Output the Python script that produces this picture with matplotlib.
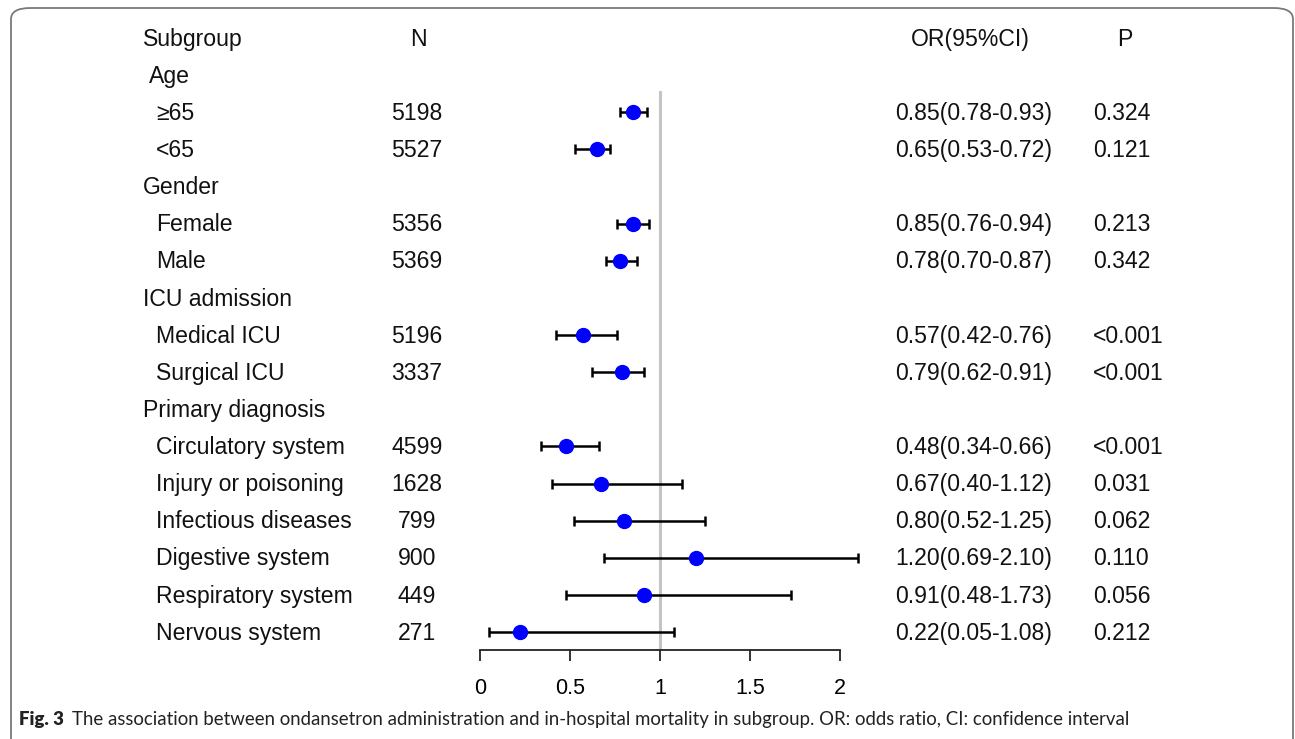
import matplotlib.pyplot as plt
from matplotlib import transforms
from matplotlib.patches import FancyBboxPatch

# data
groups = ['Age', 'Gender', 'ICU admission', 'Primary diagnosis']
labels = ['≥65', '<65', 'Female', 'Male', 'Medical ICU', 'Surgical ICU',
          'Circulatory system', 'Injury or poisoning', 'Infectious diseases',
          'Digestive system', 'Respiratory system', 'Nervous system']
group_idx = [0, 0, 1, 1, 2, 2, 3, 3, 3, 3, 3, 3]
n_vals = [5198, 5527, 5356, 5369, 5196, 3337, 4599, 1628, 799, 900, 449, 271]
or_vals = [0.85, 0.65, 0.85, 0.78, 0.57, 0.79, 0.48, 0.67, 0.80, 1.20, 0.91, 0.22]
ci_low = [0.78, 0.53, 0.76, 0.70, 0.42, 0.62, 0.34, 0.40, 0.52, 0.69, 0.48, 0.05]
ci_high = [0.93, 0.72, 0.94, 0.87, 0.76, 0.91, 0.66, 1.12, 1.25, 2.10, 1.73, 1.08]
p_vals = ['0.324', '0.121', '0.213', '0.342', '<0.001', '<0.001',
          '<0.001', '0.031', '0.062', '0.110', '0.056', '0.212']
xticks = [0, 0.5, 1, 1.5, 2]

W, H = 1295, 739
plt.rcParams['font.family'] = ['Liberation Sans', 'DejaVu Sans']
fig = plt.figure(figsize=(W / 100, H / 100), dpi=100)

# axes: x 0..2 -> px 480..840, bottom spine at px 650
ax = fig.add_axes([480 / W, 1 - 650 / H, 360 / W, 630 / H])
step = 37.125
ax.set_xlim(0, 2)
ax.set_ylim(16 + (650 - 632) / step, -(38 - 20) / step)

# row layout
rows = []
head_rows = []
r = 1
last = -1
for i, g in enumerate(group_idx):
    if g != last:
        head_rows.append(r)
        r += 1
        last = g
    rows.append(r)
    r += 1

ax.plot([1, 1], [(92 - 38) / step, ax.get_ylim()[0]], color='#c4c4c4', lw=2.2, zorder=1)
xerr = [[o - l for o, l in zip(or_vals, ci_low)], [h - o for o, h in zip(or_vals, ci_high)]]
ax.errorbar(or_vals, rows, xerr=xerr, fmt='o', color='blue', ms=10,
            ecolor='black', elinewidth=1.8, capsize=3.8, capthick=1.8,
            clip_on=False, zorder=3)

for s in ['top', 'left', 'right']:
    ax.spines[s].set_visible(False)
ax.spines['bottom'].set_linewidth(1.3)
ax.spines['bottom'].set_color('#222222')
ax.set_yticks([])
ax.set_xticks(xticks)
ax.set_xticklabels(['0', '0.5', '1', '1.5', '2'])
ax.tick_params(axis='x', length=8, width=1.3, color='#222222', pad=12, labelsize=15.5)
ax.patch.set_alpha(0)

tr = transforms.blended_transform_factory(fig.transFigure, ax.transData)
fs = 16.6
dy = 1.2 / step

def put(xpx, row, s, ha='left'):
    ax.text(xpx / W, row + dy, s, transform=tr, ha=ha, va='center', fontsize=fs,
            color='#111111', clip_on=False)

put(143, 0, 'Subgroup')
put(418, 0, 'N', 'center')
put(970, 0, 'OR(95%CI)', 'center')
put(1125, 0, 'P', 'center')

head_x = [149, 143, 143, 143]
for g, hr in zip(groups, head_rows):
    put(head_x[groups.index(g)], hr, g)

for i in range(len(labels)):
    put(156, rows[i], labels[i])
    put(417, rows[i], str(n_vals[i]), 'center')
    put(974, rows[i], '%.2f(%.2f-%.2f)' % (or_vals[i], ci_low[i], ci_high[i]), 'center')
    put(1093, rows[i], p_vals[i])

# frame and caption
frame = FancyBboxPatch((11 / W, -0.05), (1293 - 11) / W, 1.05 - 8 / H,
                       boxstyle='round,pad=0,rounding_size=0.015',
                       transform=fig.transFigure, fill=False,
                       edgecolor='#7a7a7a', lw=1.3)
fig.patches.append(frame)
fig.text(19 / W, 1 - 720 / H, 'Fig. 3', fontsize=13.4, fontweight='heavy',
         family='Lato', va='center', color='#222222')
fig.text(72 / W, 1 - 720 / H,
         'The association between ondansetron administration and in-hospital '
         'mortality in subgroup. OR: odds ratio, CI: confidence interval',
         fontsize=13.4, family='Lato', va='center', color='#222222')

fig.savefig('out.png', dpi=100)
